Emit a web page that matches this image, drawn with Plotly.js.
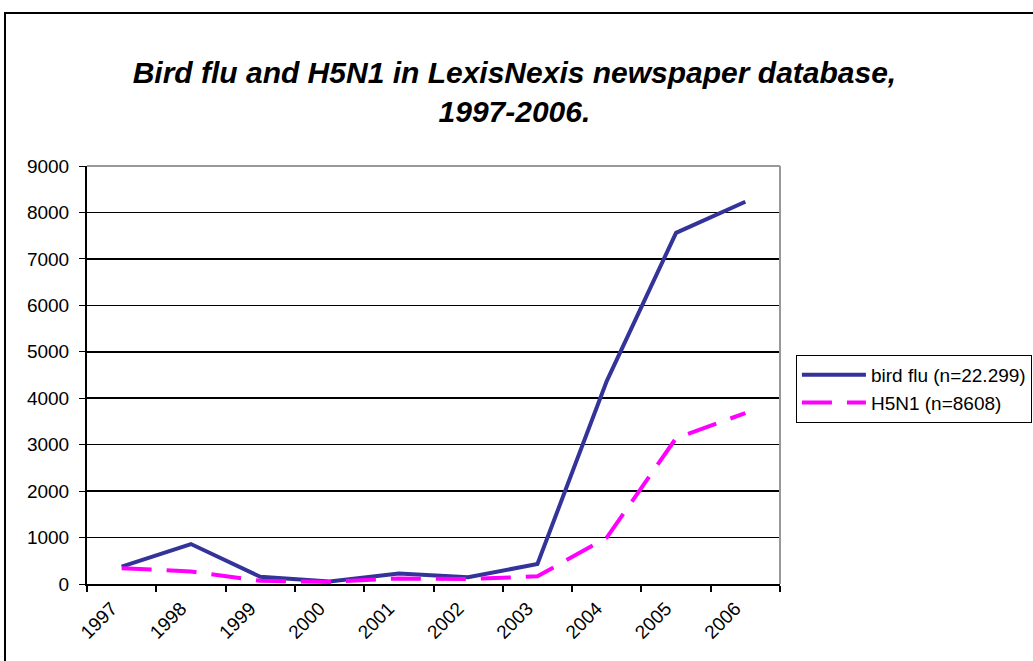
<!DOCTYPE html>
<html>
<head>
<meta charset="utf-8">
<script src="https://cdn.plot.ly/plotly-3.0.1.min.js"></script>
<style>
  html, body { margin: 0; padding: 0; background: #fff; overflow: hidden; width: 1033px; height: 661px; }
  #frame { position: absolute; left: 4px; top: 12px; width: 1100px; height: 720px; border: 2px solid #000; box-sizing: border-box; }
  #chart { position: absolute; left: 0; top: 0; width: 1033px; height: 661px; }
</style>
</head>
<body>
<div id="frame"></div>
<div id="chart"></div>
<script>
// Data
const years = ["1997", "1998", "1999", "2000", "2001", "2002", "2003", "2004", "2005", "2006"];
const birdFlu = [375, 860, 155, 55, 225, 145, 430, 4370, 7560, 8230];
const h5n1 = [340, 270, 70, 45, 120, 105, 165, 1000, 3140, 3680];
const yTicks = [0, 1000, 2000, 3000, 4000, 5000, 6000, 7000, 8000, 9000];
const seriesNames = ["bird flu (n=22.299)", "H5N1 (n=8608)"];
const titleText = "Bird flu and H5N1 in LexisNexis newspaper database,<br>1997-2006.";

const font = "Liberation Sans, Arial, sans-serif";

const traces = [
  {
    x: years, y: birdFlu, name: seriesNames[0], type: "scatter", mode: "lines",
    line: { color: "#333399", width: 4 }
  },
  {
    x: years, y: h5n1, name: seriesNames[1], type: "scatter", mode: "lines",
    line: { color: "#FF00FF", width: 4, dash: "30px,15px" }
  }
];

const layout = {
  width: 1033, height: 661,
  paper_bgcolor: "rgba(0,0,0,0)",
  plot_bgcolor: "#fff",
  margin: { l: 87, r: 253, t: 166, b: 77, pad: 0 },
  font: { family: font, color: "#000" },
  title: {
    text: "<b><i>" + titleText + "</i></b>",
    font: { family: font, size: 30, color: "#000" },
    x: 0.498, xanchor: "center", xref: "container",
    y: 0.875, yanchor: "middle", yref: "container"
  },
  xaxis: {
    type: "category",
    range: [-0.5, 9.5],
    tickson: "boundaries",
    ticks: "outside", ticklen: 6, tickcolor: "#000", tickwidth: 2,
    tickangle: -45,
    ticklabelshift: -10,
    ticklabelstandoff: 4,
    tickfont: { family: font, size: 19, color: "#000" },
    showline: true, linecolor: "#000", linewidth: 2,
    showgrid: false, zeroline: false,
    mirror: false, fixedrange: true, automargin: false
  },
  yaxis: {
    range: [0, 9000],
    tickvals: yTicks,
    ticktext: yTicks.map(String),
    ticks: "outside", ticklen: 6, tickcolor: "#000", tickwidth: 1,
    ticklabelstandoff: 6,
    tickfont: { family: font, size: 19, color: "#000" },
    showline: true, linecolor: "#000", linewidth: 2,
    showgrid: true, gridcolor: "#000", gridwidth: 1.5,
    zeroline: false, fixedrange: true, automargin: false
  },
  shapes: [
    { type: "line", xref: "paper", yref: "paper", x0: 1, x1: 1, y0: 0, y1: 1, line: { color: "#999", width: 2 } },
    { type: "line", xref: "paper", yref: "paper", x0: 0, x1: 1, y0: 1, y1: 1, line: { color: "#999", width: 2 } }
  ],
  showlegend: true,
  legend: {
    xref: "container", yref: "container",
    x: 0.7705, xanchor: "left",
    y: 0.463, yanchor: "top",
    bgcolor: "#fff",
    bordercolor: "#000", borderwidth: 1,
    font: { family: font, size: 19, color: "#000" },
    itemwidth: 64,
    tracegroupgap: 0
  }
};

Plotly.newPlot("chart", traces, layout, { displayModeBar: false, staticPlot: true });
</script>
</body>
</html>
